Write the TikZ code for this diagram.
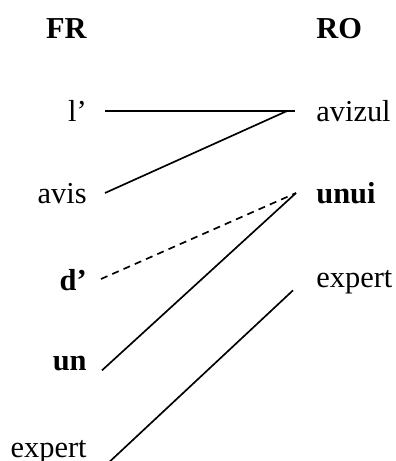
\documentclass[tikz,border=0pt]{standalone}
\usepackage{fontspec}
\setmainfont{Liberation Serif}
\usetikzlibrary{positioning}

\begin{document}
\begin{tikzpicture}[
    hd/.style   = {font=\fontsize{17.3}{20}\selectfont\bfseries, inner sep=0pt},
    wd/.style   = {font=\fontsize{17.3}{20}\selectfont, inner sep=0pt, text height=0.44cm, text depth=0pt},
    bwd/.style  = {wd, font=\fontsize{17.3}{20}\selectfont\bfseries},
    lnk/.style  = {color=black, line width=0.95pt},
    dlnk/.style = {lnk, dash pattern=on 4pt off 3pt},
  ]
    \useasboundingbox (0,0) rectangle (7.92cm,-9.22cm);

    % --- headers ---
    \node[hd, anchor=base east] (fr) at (1.74cm, -0.78cm) {FR};
    \node[hd, anchor=base west] (ro) at (6.32cm, -0.78cm) {RO};

    % --- French side ---
    \node[wd,  anchor=base east] (l)     at (1.74cm, -2.44cm) {l’};
    \node[wd,  anchor=base east] (avis)  at (1.74cm, -4.08cm) {avis};
    \node[bwd, anchor=base east] (d)     at (1.74cm, -5.80cm) {d’};
    \node[bwd, anchor=base east] (un)    at (1.74cm, -7.40cm) {un};
    \node[wd,  anchor=base east] (expfr) at (1.74cm, -9.14cm) {expert};

    % --- Romanian side ---
    \node[wd,  anchor=base west] (avizul) at (6.32cm, -2.44cm) {avizul};
    \node[bwd, anchor=base west] (unui)   at (6.32cm, -4.08cm) {unui};
    \node[wd,  anchor=base west] (expro)  at (6.32cm, -5.74cm) {expert};

    % --- alignments ---
    \draw[lnk]  ([xshift=0.36cm]l.east)    -- ([xshift=-0.42cm]avizul.west);
    \draw[lnk]  ([xshift=0.36cm]avis.east) -- ([xshift=-0.58cm]avizul.west);
    \draw[dlnk] ([xshift=0.28cm]d.east)    -- ([xshift=-0.40cm]unui.west);
    \draw[lnk]  ([xshift=0.30cm]un.south east) -- ([xshift=-0.40cm]unui.west);
    \draw[lnk]  ([shift={(0.46cm,-0.08cm)}]expfr.south east) -- ([shift={(-0.46cm,-0.06cm)}]expro.south west);

  \end{tikzpicture}
\end{document}
